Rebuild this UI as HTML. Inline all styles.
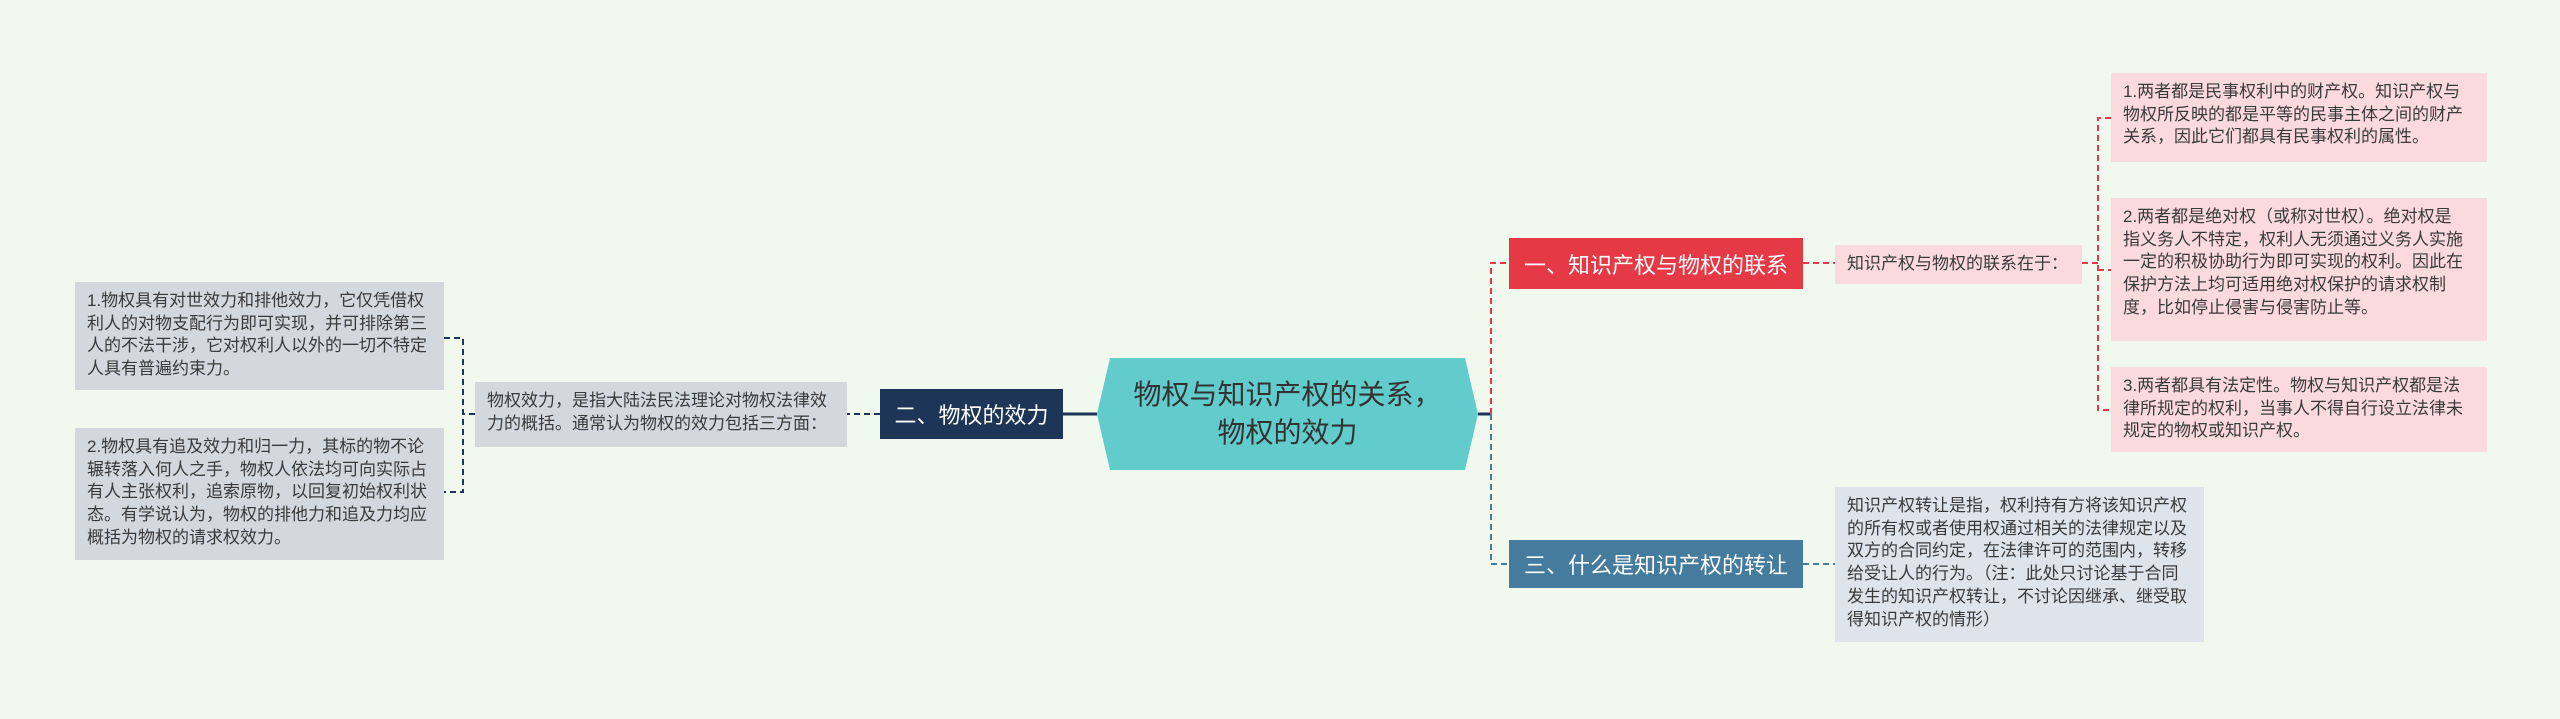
<!DOCTYPE html>
<html><head><meta charset="utf-8"><style>
body{margin:0;width:2560px;height:719px;background:#f1f9ef;position:relative;overflow:hidden;font-family:"Liberation Sans","Noto Sans CJK SC",sans-serif;}
.b{position:absolute;box-sizing:border-box;font-size:17px;line-height:22.7px;color:#3a3a3a;padding:8px 12px;}
.n{position:absolute;box-sizing:border-box;color:#fff;font-size:22px;display:flex;align-items:center;justify-content:center;}
svg{position:absolute;left:0;top:0}
</style></head><body>
<svg width="2560" height="719">
<polygon points="1110,358 1465,358 1478,414 1465,470 1110,470 1097,414" fill="#62cbcb"/>
<g fill="none" stroke-width="2">
<line x1="1478" y1="414" x2="1491" y2="414" stroke="#1d3557" stroke-width="3"/>
<path d="M1491 414 V263 H1509" stroke="#e63946" stroke-dasharray="6,4"/>
<path d="M1491 414 V564 H1509" stroke="#457b9d" stroke-dasharray="6,4"/>
<line x1="1803" y1="263" x2="1835" y2="263" stroke="#e63946" stroke-dasharray="6,4"/>
<path d="M2082 263 H2098 M2111 118 H2098 V410 H2111 M2098 270 H2111" stroke="#e63946" stroke-dasharray="6,4"/>
<line x1="1803" y1="564" x2="1835" y2="564" stroke="#457b9d" stroke-dasharray="6,4"/>
<line x1="1097" y1="414" x2="1063" y2="414" stroke="#1d3557" stroke-width="3"/>
<line x1="880" y1="414" x2="847" y2="414" stroke="#1d3557" stroke-dasharray="6,4"/>
<path d="M475 414 H463 M444 338 H463 V492 H444" stroke="#1d3557" stroke-dasharray="6,4"/>
</g>
</svg>
<div class="n" style="left:1110px;top:358px;width:355px;height:112px;color:#333;font-size:28px;line-height:38px;text-align:center">物权与知识产权的关系，<br>物权的效力</div>
<div class="n" style="left:1509px;top:238px;width:294px;height:51px;background:#e63946">一、知识产权与物权的联系</div>
<div class="n" style="left:1509px;top:540px;width:294px;height:48px;background:#457b9d">三、什么是知识产权的转让</div>
<div class="n" style="left:880px;top:389px;width:183px;height:50px;background:#1d3557">二、物权的效力</div>
<div class="b" style="left:1835px;top:245px;width:247px;height:39px;background:#fadadd;padding-top:8px">知识产权与物权的联系在于：</div>
<div class="b" style="left:2111px;top:73px;width:376px;height:89px;background:#fadadd">1.两者都是民事权利中的财产权。知识产权与物权所反映的都是平等的民事主体之间的财产关系，因此它们都具有民事权利的属性。</div>
<div class="b" style="left:2111px;top:198px;width:376px;height:143px;background:#fadadd;padding-right:20px">2.两者都是绝对权（或称对世权）。绝对权是指义务人不特定，权利人无须通过义务人实施一定的积极协助行为即可实现的权利。因此在保护方法上均可适用绝对权保护的请求权制度，比如停止侵害与侵害防止等。</div>
<div class="b" style="left:2111px;top:367px;width:376px;height:85px;background:#fadadd">3.两者都具有法定性。物权与知识产权都是法律所规定的权利，当事人不得自行设立法律未规定的物权或知识产权。</div>
<div class="b" style="left:1835px;top:487px;width:369px;height:155px;background:#dde4ec">知识产权转让是指，权利持有方将该知识产权的所有权或者使用权通过相关的法律规定以及双方的合同约定，在法律许可的范围内，转移给受让人的行为。（注：此处只讨论基于合同发生的知识产权转让，不讨论因继承、继受取得知识产权的情形）</div>
<div class="b" style="left:475px;top:382px;width:372px;height:65px;background:#d3d8de">物权效力，是指大陆法民法理论对物权法律效力的概括。通常认为物权的效力包括三方面：</div>
<div class="b" style="left:75px;top:282px;width:369px;height:108px;background:#d3d8de">1.物权具有对世效力和排他效力，它仅凭借权利人的对物支配行为即可实现，并可排除第三人的不法干涉，它对权利人以外的一切不特定人具有普遍约束力。</div>
<div class="b" style="left:75px;top:428px;width:369px;height:132px;background:#d3d8de">2.物权具有追及效力和归一力，其标的物不论辗转落入何人之手，物权人依法均可向实际占有人主张权利，追索原物，以回复初始权利状态。有学说认为，物权的排他力和追及力均应概括为物权的请求权效力。</div>
</body></html>
